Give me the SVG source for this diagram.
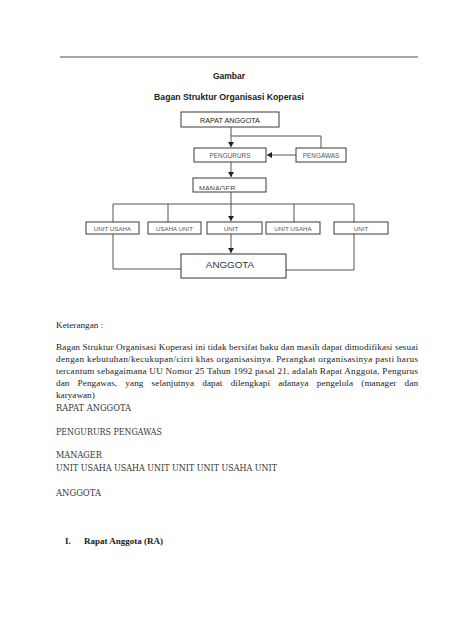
<svg xmlns="http://www.w3.org/2000/svg" width="474" height="632" viewBox="0 0 474 632">
<style>
.box{fill:#fff;stroke:#3a3a3a;stroke-width:1}
.lbl{font-family:"Liberation Sans",Arial,sans-serif;fill:#555;text-anchor:middle}
.ln{fill:none;stroke:#555;stroke-width:1}
.body{font-family:"Liberation Serif","Times New Roman",serif;font-size:9.2px;fill:#222}
.list{font-family:"DejaVu Serif",serif;font-size:8.3px;fill:#333}
.title{font-family:"Liberation Sans",Arial,sans-serif;font-weight:bold;fill:#222;text-anchor:middle}
</style>
<defs>
<marker id="ah" markerWidth="6" markerHeight="6" refX="5" refY="3" orient="auto" markerUnits="userSpaceOnUse">
<path d="M0,0 L5,3 L0,6 Z" fill="#222"/>
</marker>
<clipPath id="mclip"><rect x="193" y="178" width="73" height="12"/></clipPath>
</defs>
<rect width="474" height="632" fill="#fff"/>
<line x1="60" y1="57" x2="418" y2="57" stroke="#8a8a8a" stroke-width="1.5"/>
<text class="title" x="229" y="79" font-size="8.5">Gambar</text>
<text class="title" x="229" y="100" font-size="9.5" textLength="150" lengthAdjust="spacingAndGlyphs">Bagan Struktur Organisasi Koperasi</text>

<g id="connectors">
<line class="ln" x1="231" y1="127" x2="231" y2="147" marker-end="url(#ah)"/>
<polyline class="ln" points="231,136 321,136 321,148"/>
<line class="ln" x1="296" y1="155" x2="267" y2="155" marker-end="url(#ah)"/>
<line class="ln" x1="231" y1="162" x2="231" y2="177" marker-end="url(#ah)"/>
<line class="ln" x1="231" y1="192" x2="231" y2="221" marker-end="url(#ah)"/>
<polyline class="ln" points="113,222 113,204 354,204 354,222"/>
<line class="ln" x1="168" y1="204" x2="168" y2="222"/>
<line class="ln" x1="294" y1="204" x2="294" y2="222"/>
<line class="ln" x1="231" y1="234" x2="231" y2="253" marker-end="url(#ah)"/>
<polyline class="ln" points="113,234 113,269 181,269"/>
<polyline class="ln" points="354,234 354,270 286,270"/>
</g>

<g id="rapat-anggota">
<rect class="box" x="181" y="112" width="98" height="15"/>
<text class="lbl" x="230" y="122.5" font-size="7.2" style="fill:#222">RAPAT ANGGOTA</text>
</g>
<g id="pengururs">
<rect class="box" x="194" y="148" width="72" height="14"/>
<text class="lbl" x="230" y="157.5" font-size="6.4">PENGURURS</text>
</g>
<g id="pengawas">
<rect class="box" x="296" y="148" width="50" height="14"/>
<text class="lbl" x="321" y="157.5" font-size="6.4">PENGAWAS</text>
</g>
<g id="manager">
<rect class="box" x="193" y="178" width="73" height="14"/>
<text clip-path="url(#mclip)" x="199" y="191" font-family="Liberation Sans, Arial, sans-serif" font-size="7.2" fill="#444">MANAGER</text>
</g>
<g id="unit-usaha-1">
<rect class="box" x="86" y="222" width="53" height="12"/>
<text class="lbl" x="112.5" y="230.5" font-size="6.2">UNIT USAHA</text>
</g>
<g id="usaha-unit">
<rect class="box" x="148" y="222" width="53" height="12"/>
<text class="lbl" x="174.5" y="230.5" font-size="6.2">USAHA UNIT</text>
</g>
<g id="unit-1">
<rect class="box" x="207" y="222" width="55" height="12"/>
<text class="lbl" x="231" y="230.5" font-size="6.2">UNIT</text>
</g>
<g id="unit-usaha-2">
<rect class="box" x="266" y="222" width="54" height="12"/>
<text class="lbl" x="293" y="230.5" font-size="6.2">UNIT USAHA</text>
</g>
<g id="unit-2">
<rect class="box" x="334" y="222" width="54" height="12"/>
<text class="lbl" x="361" y="230.5" font-size="6.2">UNIT</text>
</g>
<g id="anggota">
<rect class="box" x="181" y="254" width="105" height="24" style="stroke:#333"/>
<text class="lbl" x="230" y="268" font-size="9.8" style="fill:#333">ANGGOTA</text>
</g>

<text class="body" x="56" y="328">Keterangan :</text>
<text class="body" x="56" y="350" textLength="362" lengthAdjust="spacing">Bagan Struktur Organisasi Koperasi ini tidak bersifat baku dan masih dapat dimodifikasi sesuai</text>
<text class="body" x="56" y="362" textLength="362" lengthAdjust="spacing">dengan kebutuhan/kecukupan/cirri khas organisasinya. Perangkat organisasinya pasti harus</text>
<text class="body" x="56" y="374" textLength="362" lengthAdjust="spacing">tercantum sebagaimana UU Nomor 25 Tahun 1992 pasal 21, adalah Rapat Anggota, Pengurus</text>
<text class="body" x="56" y="386" word-spacing="5.8" textLength="362" lengthAdjust="spacing">dan Pengawas, yang selanjutnya dapat dilengkapi adanaya pengelola (manager dan</text>
<text class="body" x="56" y="398">karyawan)</text>

<text class="list" x="56" y="411" textLength="75" lengthAdjust="spacingAndGlyphs">RAPAT ANGGOTA</text>
<text class="list" x="56" y="435" textLength="106" lengthAdjust="spacingAndGlyphs">PENGURURS PENGAWAS</text>
<text class="list" x="56" y="458" textLength="46" lengthAdjust="spacingAndGlyphs">MANAGER</text>
<text class="list" x="56" y="471" textLength="221" lengthAdjust="spacingAndGlyphs">UNIT USAHA USAHA UNIT UNIT UNIT USAHA UNIT</text>
<text class="list" x="56" y="496" textLength="45" lengthAdjust="spacingAndGlyphs">ANGGOTA</text>

<text x="65" y="544" font-family="Liberation Serif, Times New Roman, serif" font-size="9" font-weight="bold" fill="#222">I.</text>
<text x="84" y="544" font-family="Liberation Serif, Times New Roman, serif" font-size="9" font-weight="bold" fill="#222">Rapat Anggota (RA)</text>
</svg>
